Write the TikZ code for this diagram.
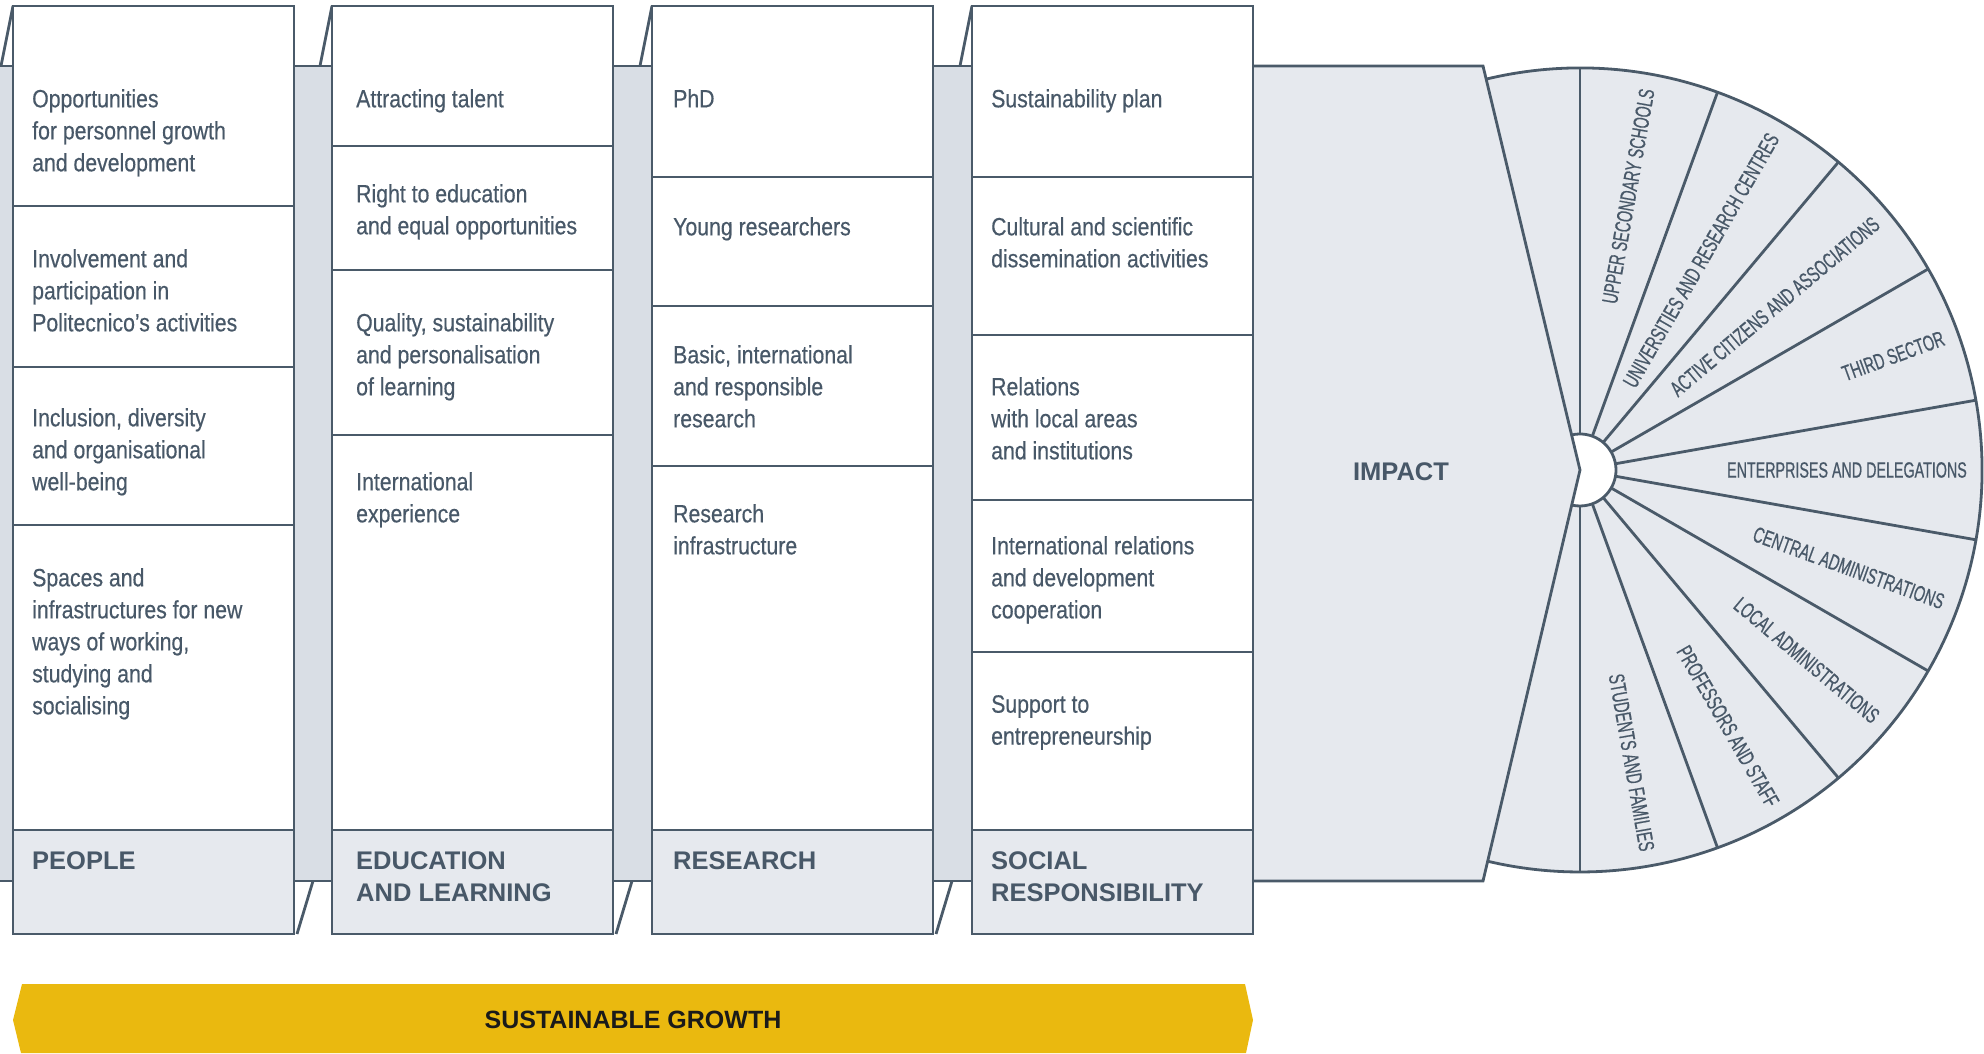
\documentclass[tikz,border=0pt]{standalone}
\usepackage{fontspec}
\usetikzlibrary{calc}
\setmainfont{Liberation Sans}
\newfontfamily\bodyfont[FakeStretch=0.85,FakeBold=0.4]{Liberation Sans}
\newfontfamily\fanfont[FakeStretch=0.65,FakeBold=0.6]{Liberation Sans}
\definecolor{ln}{RGB}{74,90,105}
\definecolor{txt}{RGB}{72,88,104}
\definecolor{gfill}{RGB}{230,233,238}
\definecolor{sfill}{RGB}{217,222,229}
\definecolor{ylw}{RGB}{234,185,15}
\definecolor{dark}{RGB}{26,26,26}
\tikzset{
  outl/.style={draw=ln, line width=2.8pt, line join=miter},
  bodytext/.style={anchor=north west, inner sep=0pt, align=left, text=txt, font=\bodyfont\fontsize{25}{32}\selectfont},
  headtext/.style={anchor=north west, inner sep=0pt, align=left, text=txt, font=\bfseries\fontsize{25.5}{32}\selectfont},
  fanlabel/.style={anchor=east, inner sep=0pt, text=txt, font=\fanfont\fontsize{22}{24}\selectfont},
}
\begin{document}
\begin{tikzpicture}[x=1pt,y=1pt]
\useasboundingbox (0,0) rectangle (1984,1053);
% ---------- connecting strips ----------
\fill[sfill] (0,172) rectangle (13,987);
\draw[outl] (0,987) -- (13,987) (0,172) -- (13,172);
\foreach \a/\b in {294/332,613/652,933/972}{
  \fill[sfill] (\a,172) rectangle (\b,987);
  \draw[outl] (\a,987) -- (\b,987) (\a,172) -- (\b,172);
}
% top folds
\foreach \l in {13,332,652,972}{
  \draw[outl] (\l-12,987) -- (\l,1047);
}
% bottom folds
\foreach \r in {294,613,933}{
  \draw[outl] (\r+19,172) -- (\r+3,119);
}
% ---------- IMPACT + fan ----------
\coordinate (C) at (1580,583);
\fill[gfill] (1253,987) -- (1483,987) -- (C) -- (1483,172) -- (1253,172) -- cycle;
\fill[gfill] (C) -- ++(103.5:402) arc[start angle=103.5, end angle=-103.3, radius=402] -- cycle;
\fill[white] (C) -- ++(103.5:36) arc[start angle=103.5, end angle=-103.3, radius=36] -- cycle;
\foreach \a in {90,70,50,30,10,-10,-30,-50,-70,-90}{
  \draw[outl] ($(C)+(\a:36)$) -- ($(C)+(\a:402)$);
}
\draw[outl] ($(C)+(103.5:402)$) arc[start angle=103.5, end angle=-103.3, radius=402];
\draw[outl] ($(C)+(103.5:36)$) arc[start angle=103.5, end angle=-103.3, radius=36];
\draw[outl] (1253,987) -- (1483,987) -- (C) -- (1483,172) -- (1253,172);
\node[font=\bfseries\fontsize{25.5}{30}\selectfont, text=txt, inner sep=0pt] (impact) at (1401,581) {IMPACT};
% fan labels
\node[fanlabel, rotate=80]  (f1) at ($(C)+(80:387)$)  {UPPER SECONDARY SCHOOLS};
\node[fanlabel, rotate=60]  (f2) at ($(C)+(60:387)$)  {UNIVERSITIES AND RESEARCH CENTRES};
\node[fanlabel, rotate=40]  (f3) at ($(C)+(40:387)$)  {ACTIVE CITIZENS AND ASSOCIATIONS};
\node[fanlabel, rotate=20]  (f4) at ($(C)+(20:387)$)  {THIRD SECTOR};
\node[fanlabel, rotate=0]   (f5) at ($(C)+(0:387)$)   {ENTERPRISES AND DELEGATIONS};
\node[fanlabel, rotate=-20] (f6) at ($(C)+(-20:387)$) {CENTRAL ADMINISTRATIONS};
\node[fanlabel, rotate=-40] (f7) at ($(C)+(-40:387)$) {LOCAL ADMINISTRATIONS};
\node[fanlabel, rotate=-60] (f8) at ($(C)+(-60:387)$) {PROFESSORS AND STAFF};
\node[fanlabel, rotate=-80] (f9) at ($(C)+(-80:387)$) {STUDENTS AND FAMILIES};
% ---------- columns ----------
\foreach \l/\r in {13/294,332/613,652/933,972/1253}{
  \fill[white] (\l,119) rectangle (\r,1047);
  \fill[gfill] (\l,119) rectangle (\r,223);
}
% dividers
\foreach \y in {847,686,528,223}{ \draw[outl] (13,\y) -- (294,\y); }
\foreach \y in {907,783,618,223}{ \draw[outl] (332,\y) -- (613,\y); }
\foreach \y in {876,747,587,223}{ \draw[outl] (652,\y) -- (933,\y); }
\foreach \y in {876,718,553,401,223}{ \draw[outl] (972,\y) -- (1253,\y); }
\foreach \l/\r in {13/294,332/613,652/933,972/1253}{
  \draw[outl] (\l,119) rectangle (\r,1047);
}
% column 1
\node[bodytext] (p1) at (32,964) {Opportunities\\for personnel growth\\and development};
\node[bodytext] (p2) at (32,804) {Involvement and\\participation in\\Politecnico’s activities};
\node[bodytext] (p3) at (32,645) {Inclusion, diversity\\and organisational\\well-being};
\node[bodytext] (p4) at (32,485) {Spaces and\\infrastructures for new\\ways of working,\\studying and\\socialising};
\node[headtext] (h1) at (32,202) {PEOPLE};
% column 2
\node[bodytext] (e1) at (356,964) {Attracting talent};
\node[bodytext] (e2) at (356,869) {Right to education\\and equal opportunities};
\node[bodytext] (e3) at (356,740) {Quality, sustainability\\and personalisation\\of learning};
\node[bodytext] (e4) at (356,581) {International\\experience};
\node[headtext] (h2) at (356,202) {EDUCATION\\AND LEARNING};
% column 3
\node[bodytext] (r1) at (673,964) {PhD};
\node[bodytext] (r2) at (673,836) {Young researchers};
\node[bodytext] (r3) at (673,708) {Basic, international\\and responsible\\research};
\node[bodytext] (r4) at (673,549) {Research\\infrastructure};
\node[headtext] (h3) at (673,202) {RESEARCH};
% column 4
\node[bodytext] (s1) at (991,964) {Sustainability plan};
\node[bodytext] (s2) at (991,836) {Cultural and scientific\\dissemination activities};
\node[bodytext] (s3) at (991,676) {Relations\\with local areas\\and institutions};
\node[bodytext] (s4) at (991,517) {International relations\\and development\\cooperation};
\node[bodytext] (s5) at (991,358) {Support to\\entrepreneurship};
\node[headtext] (h4) at (991,202) {SOCIAL\\RESPONSIBILITY};
% ---------- sustainable growth bar ----------
\fill[ylw] (22,69) -- (1245,69) -- (1253,33) -- (1246,0) -- (21,0) -- (13,33) -- cycle;
\node[font=\bfseries\fontsize{25}{30}\selectfont, text=dark, inner sep=0pt] (sg) at (633,33) {SUSTAINABLE GROWTH};
\end{tikzpicture}
\end{document}
